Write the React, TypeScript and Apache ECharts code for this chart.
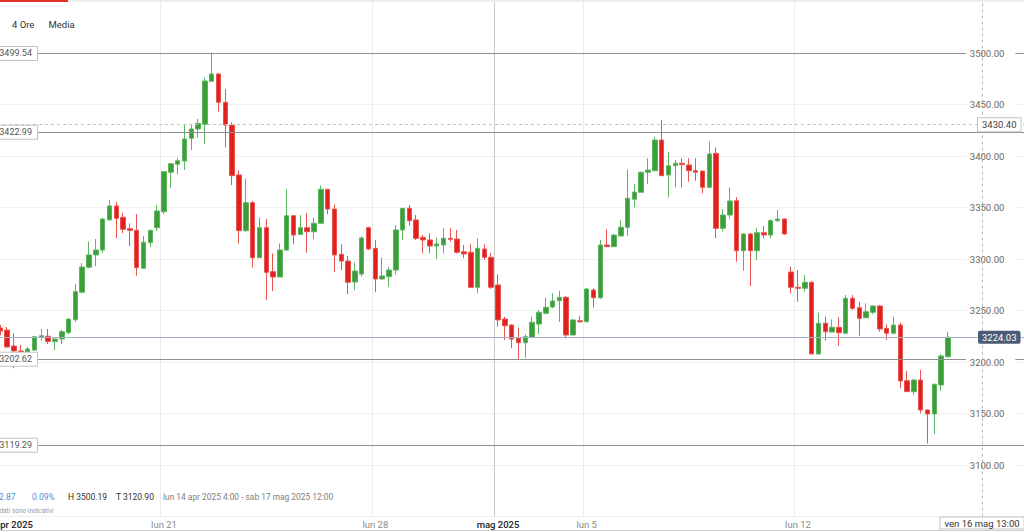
import React, { useEffect, useRef } from "react";
import * as echarts from "echarts";

const FONT = 'Roboto, "Noto Sans", "DejaVu Sans", sans-serif';

// 4-hour candles, [open, close, low, high]
const candles: number[][] = [
  [3233.0, 3230.0, 3226.0, 3236.0],
  [3231.0, 3214.6, 3213.6, 3234.0],
  [3215.5, 3210.7, 3194.0, 3228.0],
  [3210.7, 3209.7, 3206.8, 3216.5],
  [3209.7, 3212.6, 3209.0, 3214.6],
  [3211.6, 3224.6, 3211.0, 3225.0],
  [3224.0, 3225.5, 3220.6, 3232.0],
  [3225.0, 3219.8, 3217.5, 3232.0],
  [3219.8, 3222.3, 3211.6, 3223.0],
  [3222.3, 3229.4, 3217.5, 3231.0],
  [3228.5, 3241.7, 3227.0, 3242.0],
  [3241.0, 3268.3, 3238.8, 3275.7],
  [3267.7, 3292.2, 3267.0, 3296.0],
  [3292.0, 3304.0, 3291.0, 3316.8],
  [3303.9, 3308.7, 3293.2, 3319.4],
  [3308.7, 3338.8, 3306.0, 3339.9],
  [3338.0, 3351.5, 3337.0, 3357.3],
  [3351.5, 3339.5, 3320.0, 3355.6],
  [3340.5, 3328.8, 3325.0, 3345.0],
  [3329.4, 3327.8, 3312.6, 3334.6],
  [3327.8, 3291.6, 3283.8, 3343.7],
  [3291.0, 3316.2, 3291.0, 3322.3],
  [3315.8, 3327.8, 3311.4, 3327.8],
  [3330.4, 3346.6, 3327.2, 3352.4],
  [3345.9, 3384.8, 3343.4, 3384.8],
  [3384.2, 3392.5, 3369.2, 3392.9],
  [3392.0, 3395.4, 3382.2, 3397.8],
  [3395.1, 3416.5, 3386.4, 3430.0],
  [3417.2, 3426.2, 3405.8, 3430.0],
  [3426.2, 3431.7, 3417.8, 3436.0],
  [3430.8, 3472.8, 3411.7, 3476.0],
  [3472.5, 3479.6, 3472.5, 3500.2],
  [3479.6, 3452.1, 3443.0, 3480.3],
  [3452.1, 3430.1, 3408.4, 3465.0],
  [3430.1, 3380.9, 3371.8, 3432.7],
  [3381.6, 3327.5, 3315.2, 3385.7],
  [3327.5, 3354.7, 3326.5, 3378.0],
  [3354.7, 3301.3, 3291.6, 3356.3],
  [3301.3, 3330.4, 3300.7, 3340.1],
  [3330.4, 3287.1, 3260.2, 3338.8],
  [3287.7, 3282.5, 3268.9, 3305.5],
  [3282.5, 3308.7, 3282.5, 3315.2],
  [3308.7, 3342.0, 3307.8, 3367.7],
  [3342.0, 3323.3, 3314.3, 3342.7],
  [3323.9, 3330.4, 3323.3, 3342.7],
  [3330.4, 3326.5, 3306.1, 3344.4],
  [3326.5, 3334.7, 3319.4, 3340.1],
  [3334.7, 3367.7, 3334.0, 3371.2],
  [3367.7, 3348.5, 3343.4, 3368.0],
  [3348.5, 3303.9, 3287.1, 3353.0],
  [3304.6, 3298.0, 3289.3, 3314.3],
  [3298.0, 3277.4, 3265.7, 3302.9],
  [3277.7, 3288.3, 3269.9, 3296.8],
  [3285.4, 3320.4, 3283.0, 3322.0],
  [3330.4, 3309.7, 3308.7, 3331.4],
  [3310.4, 3280.6, 3267.7, 3318.5],
  [3280.6, 3283.5, 3280.0, 3301.3],
  [3282.8, 3289.3, 3273.1, 3292.5],
  [3289.3, 3328.2, 3285.2, 3333.0],
  [3328.2, 3349.2, 3318.5, 3349.2],
  [3349.2, 3337.2, 3332.3, 3352.4],
  [3337.9, 3320.0, 3318.5, 3342.7],
  [3321.0, 3318.5, 3305.5, 3323.3],
  [3318.5, 3312.6, 3305.5, 3325.0],
  [3312.6, 3314.6, 3300.0, 3320.7],
  [3313.6, 3320.1, 3305.5, 3329.8],
  [3320.1, 3319.1, 3316.8, 3329.8],
  [3319.4, 3306.5, 3305.5, 3328.2],
  [3307.0, 3304.9, 3300.7, 3313.6],
  [3306.5, 3272.5, 3271.6, 3314.3],
  [3272.5, 3310.4, 3266.7, 3320.0],
  [3309.7, 3301.6, 3299.0, 3314.3],
  [3301.6, 3272.5, 3270.9, 3306.1],
  [3274.8, 3240.8, 3234.3, 3285.0],
  [3241.7, 3235.2, 3221.4, 3244.0],
  [3235.9, 3222.3, 3213.3, 3236.6],
  [3223.0, 3218.7, 3201.9, 3233.3],
  [3218.7, 3224.6, 3204.2, 3226.9],
  [3224.0, 3238.6, 3223.0, 3244.0],
  [3236.9, 3248.3, 3227.2, 3250.5],
  [3247.3, 3253.1, 3246.3, 3262.4],
  [3253.4, 3259.2, 3252.2, 3266.7],
  [3259.5, 3262.8, 3239.0, 3269.2],
  [3262.8, 3226.2, 3223.0, 3264.1],
  [3226.2, 3240.8, 3226.2, 3241.7],
  [3240.1, 3239.1, 3237.6, 3244.7],
  [3239.1, 3270.9, 3238.5, 3272.1],
  [3269.9, 3262.4, 3253.1, 3271.6],
  [3262.4, 3313.6, 3261.2, 3318.5],
  [3313.6, 3312.0, 3311.4, 3328.8],
  [3312.0, 3323.3, 3312.0, 3324.3],
  [3322.3, 3330.8, 3322.3, 3338.1],
  [3330.8, 3358.9, 3322.3, 3387.0],
  [3358.0, 3365.0, 3350.2, 3372.8],
  [3364.8, 3384.2, 3364.8, 3384.8],
  [3384.2, 3386.4, 3372.8, 3397.8],
  [3385.7, 3415.5, 3385.7, 3418.2],
  [3415.5, 3380.9, 3380.9, 3435.0],
  [3381.6, 3390.6, 3359.9, 3404.2],
  [3390.6, 3392.9, 3369.6, 3396.1],
  [3392.9, 3391.6, 3369.6, 3397.8],
  [3391.3, 3385.7, 3375.0, 3397.8],
  [3385.7, 3384.2, 3376.0, 3397.8],
  [3385.4, 3369.6, 3363.8, 3385.4],
  [3369.6, 3402.0, 3369.6, 3413.9],
  [3402.6, 3329.8, 3320.0, 3408.4],
  [3329.8, 3342.7, 3326.5, 3348.2],
  [3342.7, 3356.3, 3339.5, 3369.6],
  [3356.6, 3308.0, 3297.4, 3359.9],
  [3308.0, 3324.3, 3288.6, 3325.0],
  [3324.3, 3308.0, 3273.8, 3325.0],
  [3308.0, 3325.5, 3299.0, 3330.4],
  [3325.5, 3323.3, 3320.0, 3332.0],
  [3323.3, 3337.2, 3320.0, 3338.5],
  [3337.2, 3338.8, 3336.0, 3347.6],
  [3338.8, 3324.3, 3323.3, 3339.5],
  [3287.4, 3272.5, 3266.7, 3292.5],
  [3272.5, 3271.6, 3258.5, 3289.3],
  [3271.6, 3277.4, 3268.3, 3284.5],
  [3277.4, 3207.8, 3207.8, 3278.0],
  [3207.8, 3237.6, 3207.8, 3247.9],
  [3237.6, 3229.4, 3220.7, 3244.0],
  [3229.1, 3233.7, 3229.1, 3241.4],
  [3233.7, 3228.5, 3215.5, 3243.4],
  [3227.9, 3261.8, 3227.9, 3265.0],
  [3261.8, 3252.1, 3250.5, 3265.0],
  [3252.7, 3242.4, 3225.5, 3258.5],
  [3243.0, 3248.8, 3242.4, 3257.0],
  [3248.3, 3254.4, 3246.3, 3254.7],
  [3254.4, 3232.0, 3229.4, 3255.3],
  [3232.7, 3227.9, 3221.4, 3236.6],
  [3227.9, 3235.9, 3226.9, 3244.0],
  [3235.9, 3181.6, 3174.4, 3238.5],
  [3181.8, 3171.2, 3171.2, 3191.3],
  [3171.2, 3182.5, 3168.0, 3183.5],
  [3182.5, 3153.4, 3150.2, 3192.2],
  [3153.4, 3149.5, 3120.9, 3154.0],
  [3149.5, 3178.3, 3130.0, 3179.3],
  [3177.7, 3205.8, 3171.8, 3207.5],
  [3205.2, 3224.03, 3204.2, 3229.4],
];

// empty slots to the right of the last candle
const emptySlots = 11;

// x tick labels (category index -> text)
const tickIndexes = [2, 24, 55, 73, 86, 117];
const tickTexts = ["apr 2025", "lun 21", "lun 28", "mag 2025", "lun 5", "lun 12"];
const tickStrong = [true, false, false, true, false, false];

// vertical week separators (category index), month separator
const weekLines = [24, 55, 73, 86, 117];
const monthLines = [73];

// horizontal reference levels
const levelValues = [3499.54, 3422.99, 3202.62, 3119.29];
const markedValue = 3430.4;
const lastValue = 3224.03;

// cursor
const cursorIndex = 144;
const cursorText = "ven 16 mag 13:00";

// y scale
const yMin = 3050;
const yMax = 3550;
const yStep = 50;

// texts
const headerTexts = ["4 Ore", "Media"];
const changeTexts = ["2.87", "0.09%"];
const rangeTexts = ["H 3500.19", "T 3120.90"];
const periodText = "lun 14 apr 2025 4:00 - sab 17 mag 2025 12:00";
const noteText = "I dati sono indicativi";

const GREEN = "#3b9e3b";
const GREEN_B = "#5db55d";
const RED = "#e2201e";
const RED_B = "#e95350";

export default function App() {
  const ref = useRef<HTMLDivElement>(null);

  useEffect(() => {
    if (!ref.current) return;
    const chart = echarts.init(ref.current, undefined, { renderer: "svg" });

    const categories = Array.from({ length: candles.length + emptySlots }, (_, i) => String(i + 1));
    const catWidth = 6.817;
    const gridLeft = -3;
    const gridWidth = categories.length * catWidth;
    const gridRight = gridLeft + gridWidth;

    const tickPos = (i: number) => tickIndexes.indexOf(i);

    const option: any = {
      animation: false,
      backgroundColor: "#ffffff",
      textStyle: { fontFamily: FONT },
      grid: {
        left: gridLeft,
        top: 1.5,
        width: gridWidth,
        height: 515,
        containLabel: false,
        outerBoundsMode: "none",
      },
      xAxis: {
        type: "category",
        data: categories,
        boundaryGap: true,
        axisLine: { show: false },
        axisTick: { show: false },
        axisLabel: {
          interval: (i: number) => tickPos(i) >= 0,
          formatter: (_v: string, i: number) => {
            const k = tickPos(i);
            if (k < 0) return "";
            return `{${tickStrong[k] ? "s" : "n"}|${tickTexts[k]}}`;
          },
          margin: 3,
          rich: {
            s: { color: "#222", fontSize: 9.5, fontFamily: FONT, fontWeight: 500 },
            n: { color: "#8a8a8a", fontSize: 9.5, fontFamily: FONT },
          },
        },
        splitLine: {
          show: true,
          interval: (i: number) => weekLines.indexOf(i) >= 0,
          lineStyle: {
            width: 1,
            color: weekLines.map((w) => (monthLines.indexOf(w) >= 0 ? "#c9c9c9" : "#ececec")),
          },
        },
      },
      yAxis: [
        {
          type: "value",
          position: "right",
          min: yMin,
          max: yMax,
          interval: yStep,
          axisLine: { show: false },
          axisTick: { show: false },
          axisLabel: { show: false },
          splitLine: { show: true, lineStyle: { color: "#efefef", width: 1 } },
        },
        {
          type: "value",
          position: "right",
          min: yMin,
          max: yMax,
          interval: yStep,
          z: 10,
          axisLine: { show: false },
          axisTick: { show: false },
          splitLine: { show: false },
          axisLabel: {
            inside: true,
            margin: 11,
            showMinLabel: false,
            showMaxLabel: false,
            formatter: (v: number) => v.toFixed(2),
            color: "#666",
            fontSize: 9.5,
            fontFamily: FONT,
            backgroundColor: "#ffffff",
            padding: [1, 11, 1, 4],
          },
        },
      ],
      series: [
        {
          type: "candlestick",
          data: candles,
          barWidth: 5,
          z: 2,
          itemStyle: {
            color: GREEN,
            color0: RED,
            borderColor: GREEN_B,
            borderColor0: RED_B,
            borderColorDoji: RED_B,
            borderWidth: 1,
          },
        },
        {
          type: "line",
          data: [],
          silent: true,
          markLine: {
            silent: true,
            z: 5,
            symbol: ["none", "none"],
            animation: false,
            lineStyle: { color: "#8f8f8f", width: 1, type: "solid" },
            label: {
              show: true,
              position: "start",
              distance: -40,
              formatter: (p: any) => Number(p.value).toFixed(2),
              color: "#555",
              fontSize: 9,
              fontFamily: FONT,
              backgroundColor: "#ffffff",
              borderColor: "#c4c4c4",
              borderWidth: 1,
              padding: [2, 5, 2, 4],
            },
            emphasis: { disabled: true },
            data: levelValues.map((v) => ({ yAxis: v })),
          },
        },
        {
          type: "line",
          data: [],
          silent: true,
          markLine: {
            silent: true,
            z: 15,
            symbol: ["none", "none"],
            animation: false,
            lineStyle: { color: "#b5b5b5", width: 1, type: [3, 3] },
            label: {
              show: true,
              position: "start",
              distance: 1,
              formatter: () => cursorText,
              color: "#333",
              fontSize: 9.5,
              fontFamily: FONT,
              backgroundColor: "#ffffff",
              borderColor: "#c4c4c4",
              borderWidth: 1,
              padding: [1, 4, 0, 4],
            },
            emphasis: { disabled: true },
            data: [{ xAxis: categories[cursorIndex] }],
          },
        },
        {
          type: "line",
          data: [],
          silent: true,
          markLine: {
            silent: true,
            z: 20,
            symbol: ["none", "none"],
            animation: false,
            label: {
              show: true,
              position: "end",
              distance: -(gridRight - 978),
              formatter: (p: any) => Number(p.value).toFixed(2),
              fontSize: 9.5,
              fontFamily: FONT,
              padding: [2, 4, 1, 4],
            },
            emphasis: { disabled: true },
            data: [
              {
                yAxis: markedValue,
                lineStyle: { color: "#c2c2c2", width: 1, type: [3, 3] },
                label: { color: "#444", backgroundColor: "#ffffff", borderColor: "#c4c4c4", borderWidth: 1 },
              },
              {
                yAxis: lastValue,
                lineStyle: { color: "#a6b0c2", width: 1, type: "solid" },
                label: { color: "#ffffff", backgroundColor: "#4d5c76", borderRadius: 2 },
              },
            ],
          },
        },
      ],
      graphic: [
        {
          type: "text", z: 50, x: 12, y: 24,
          style: { text: headerTexts[0], fill: "#333", font: `9.5px ${FONT}`, verticalAlign: "middle" },
        },
        {
          type: "text", z: 50, x: 48.5, y: 24,
          style: { text: headerTexts[1], fill: "#333", font: `9.5px ${FONT}`, verticalAlign: "middle" },
        },
        {
          type: "text", z: 50, x: -1, y: 497,
          style: { text: changeTexts[0], fill: "#4a8fd8", font: `8.5px ${FONT}`, verticalAlign: "middle" },
        },
        {
          type: "text", z: 50, x: 32, y: 497,
          style: { text: changeTexts[1], fill: "#4a8fd8", font: `8.5px ${FONT}`, verticalAlign: "middle" },
        },
        {
          type: "text", z: 50, x: 68, y: 497,
          style: { text: rangeTexts[0], fill: "#333", font: `8.5px ${FONT}`, verticalAlign: "middle" },
        },
        {
          type: "text", z: 50, x: 116, y: 497,
          style: { text: rangeTexts[1], fill: "#333", font: `8.5px ${FONT}`, verticalAlign: "middle" },
        },
        {
          type: "text", z: 50, x: 163, y: 497,
          style: { text: periodText, fill: "#808080", font: `8.4px ${FONT}`, verticalAlign: "middle" },
        },
        {
          type: "text", z: 50, x: -4, y: 511,
          style: { text: noteText, fill: "#9a9a9a", font: `6.5px ${FONT}`, verticalAlign: "middle" },
        },
      ],
    };

    chart.setOption(option);
    return () => chart.dispose();
  }, []);

  return (
    <div style={{ position: "fixed", left: 0, top: 0, width: 1024, height: 532, background: "#fff" }}>
      <div ref={ref} style={{ position: "absolute", left: 0, top: 0, width: 1024, height: 532 }} />
      <div style={{ position: "absolute", left: 0, top: 0, width: 1024, height: 2, background: "#eeeeee" }} />
      <div style={{ position: "absolute", left: 0, top: 0, width: 68, height: 2, background: "#e3302c" }} />
      <div style={{ position: "absolute", left: 0, top: 530, width: 1024, height: 1, background: "#d2d2d2" }} />
    </div>
  );
}
